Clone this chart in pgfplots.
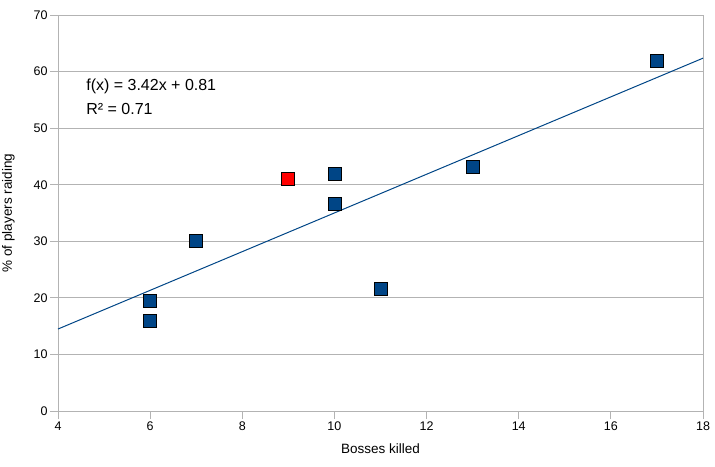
\documentclass[border=0pt]{standalone}
\usepackage{pgfplots}
\pgfplotsset{compat=1.18}
\usepackage{fontspec}
\setmainfont{Liberation Sans}
\definecolor{lblue}{HTML}{004586}
\definecolor{gridgray}{HTML}{B3B3B3}
\begin{document}
\begin{tikzpicture}[x=1pt,y=1pt]
\path[use as bounding box] (0,0) rectangle (715,466);
\begin{axis}[
  at={(58pt,55pt)}, anchor=south west,
  scale only axis, width=645pt, height=396pt,
  xmin=4, xmax=18, ymin=0, ymax=70,
  xtick={4,6,...,18}, ytick={0,10,...,70},
  ymajorgrids, grid style={gridgray, line width=0.8pt},
  axis line style={gridgray, line width=0.8pt},
  tick style={gridgray, line width=0.8pt},
  tick align=outside, major tick length=8pt,
  xtick pos=bottom, ytick pos=left,
  ticklabel style={font=\fontsize{12.5}{14}\selectfont, text=black},
  /pgf/number format/assume math mode=true,
  xticklabel style={yshift=1pt},
  yticklabel style={xshift=1pt},
  xlabel={Bosses killed},
  ylabel={\% of players raiding},
  label style={font=\fontsize{13.5}{15}\selectfont},
  xlabel style={yshift=-6pt},
  ylabel style={yshift=12pt},
  clip=false,
]
\addplot[lblue, line width=1pt] coordinates {(4,14.49) (18,62.37)};
\addplot[only marks, mark=square*, mark size=6.5pt, mark options={fill=lblue, draw=black, line width=0.8pt}]
  coordinates {(6,19.5) (6,16) (7,30) (10,42) (10,36.6) (11,21.6) (13,43.1) (17,61.9)};
\addplot[only marks, mark=square*, mark size=6.5pt, mark options={fill=red, draw=black, line width=0.8pt}]
  coordinates {(9,41)};
\node[anchor=west, font=\fontsize{16}{18}\selectfont, inner sep=0pt] at (axis cs:4.61,57.3) {f(x) = 3.42x + 0.81};
\node[anchor=west, font=\fontsize{16}{18}\selectfont, inner sep=0pt] at (axis cs:4.61,53.4) {R² = 0.71};
\end{axis}
\end{tikzpicture}
\end{document}
